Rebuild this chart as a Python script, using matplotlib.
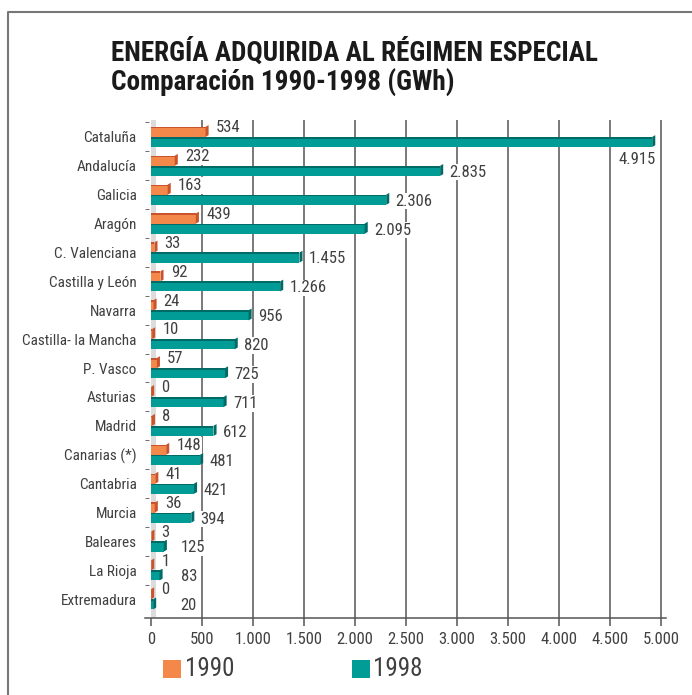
import matplotlib
matplotlib.use('Agg')
from matplotlib import pyplot as plt
from matplotlib.patches import Polygon, Rectangle
from matplotlib.lines import Line2D

plt.rcParams['font.family'] = ['Roboto Condensed', 'Asap Condensed', 'DejaVu Sans']

regiones = ['Cataluña', 'Andalucía', 'Galicia', 'Aragón', 'C. Valenciana',
            'Castilla y León', 'Navarra', 'Castilla- la Mancha', 'P. Vasco',
            'Asturias', 'Madrid', 'Canarias (*)', 'Cantabria', 'Murcia',
            'Baleares', 'La Rioja', 'Extremadura']
gwh_1990 = [534, 232, 163, 439, 33, 92, 24, 10, 57, 0, 8, 148, 41, 36, 3, 1, 0]
gwh_1998 = [4915, 2835, 2306, 2095, 1455, 1266, 956, 820, 725, 711, 612, 481,
            421, 394, 125, 83, 20]
ticks_x = [0, 500, 1000, 1500, 2000, 2500, 3000, 3500, 4000, 4500, 5000]

naranja, naranja_osc = '#F4874A', '#C9532A'
verde, verde_osc = '#009C95', '#006B66'
gris_txt = '#404040'


def fmt(v):
    return f'{v:,}'.replace(',', '.')


def barra(ax, y0, y1, v, color, oscuro):
    # barra con cara superior y lateral para dar efecto de volumen
    ax.add_patch(Rectangle((0, y0), v, y1 - y0, facecolor=color, edgecolor='none', zorder=3))
    ax.add_patch(Rectangle((0, y0), v, 0.06, facecolor=oscuro, edgecolor='none', zorder=3))
    ax.add_patch(Polygon([(v, y1), (v, y0), (v + 30, y0 - 0.06), (v + 30, y1 - 0.06)],
                         closed=True, facecolor=oscuro, edgecolor='none', zorder=3))


fig = plt.figure(figsize=(6.92, 6.95), dpi=100)
ax = fig.add_axes([0.2095, 0.1108, 0.7529, 0.7172])

h = 0.35
caja = dict(facecolor='white', edgecolor='none', pad=0.5)
for i, (a, b) in enumerate(zip(gwh_1990, gwh_1998)):
    barra(ax, i - h, i, a, naranja, naranja_osc)
    barra(ax, i, i + h, b, verde, verde_osc)
    ax.text(max(a + 100, 90), i - h + 0.03, fmt(a), fontsize=12, color=gris_txt,
            ha='left', va='center', bbox=caja, zorder=4)
    if b > 4500:
        ax.text(b + 30, i + h + 0.42, fmt(b), fontsize=12, color=gris_txt,
                ha='right', va='center', bbox=caja, zorder=4)
    else:
        ax.text(max(b, 200) + 90, i + h / 2 + 0.05, fmt(b), fontsize=12, color=gris_txt,
                ha='left', va='center', bbox=caja, zorder=4)

# pared gris del eje vertical
ax.axvspan(0, 50, color='#dcdcdc', zorder=1, lw=0)

ax.set_xlim(-60, 5050)
ax.set_ylim(len(regiones) - 0.35, -0.6)

ax.set_xticks(ticks_x)
ax.set_xticklabels([fmt(t) for t in ticks_x], fontsize=12, color=gris_txt)
for t in ticks_x[1:]:
    ax.axvline(t, color='#555555', lw=1.1, zorder=2)

ax.set_yticks(range(len(regiones)))
ax.set_yticklabels(regiones, fontsize=11, color=gris_txt)
ax.set_yticks([i - 0.5 for i in range(len(regiones))], minor=True)
ax.tick_params(axis='y', which='major', length=0, pad=6)
ax.tick_params(axis='y', which='minor', length=3, direction='in', color='#555555')
ax.tick_params(axis='x', length=6, color='#555555', width=1.1, pad=4)

for lado in ['top', 'right', 'left']:
    ax.spines[lado].set_visible(False)
ax.spines['bottom'].set_color('#555555')
ax.spines['bottom'].set_linewidth(1.1)

fig.text(111 / 692, 1 - 53 / 695, 'ENERGÍA ADQUIRIDA AL RÉGIMEN ESPECIAL',
         fontsize=19.5, fontweight='bold', color='#1a1a1a', va='center', ha='left')
fig.text(111 / 692, 1 - 83 / 695, 'Comparación 1990-1998 (GWh)',
         fontsize=19.5, fontweight='bold', color='#1a1a1a', va='center', ha='left')

# leyenda
fig.patches.append(Rectangle((163 / 692, 1 - 678 / 695), 18 / 692, 18 / 695,
                             transform=fig.transFigure, facecolor=naranja, edgecolor='none'))
fig.text(185 / 692, 1 - 669 / 695, '1990', fontsize=18, color=gris_txt, va='center')
fig.patches.append(Rectangle((352 / 692, 1 - 678 / 695), 18 / 692, 18 / 695,
                             transform=fig.transFigure, facecolor=verde, edgecolor='none'))
fig.text(373 / 692, 1 - 669 / 695, '1998', fontsize=18, color=gris_txt, va='center')

# marco
fig.lines.append(Line2D([8 / 692, 8 / 692, 1], [0, 1 - 12 / 695, 1 - 12 / 695],
                        transform=fig.transFigure, color='#777777', lw=1.5))

fig.savefig('out.png', dpi=100)
